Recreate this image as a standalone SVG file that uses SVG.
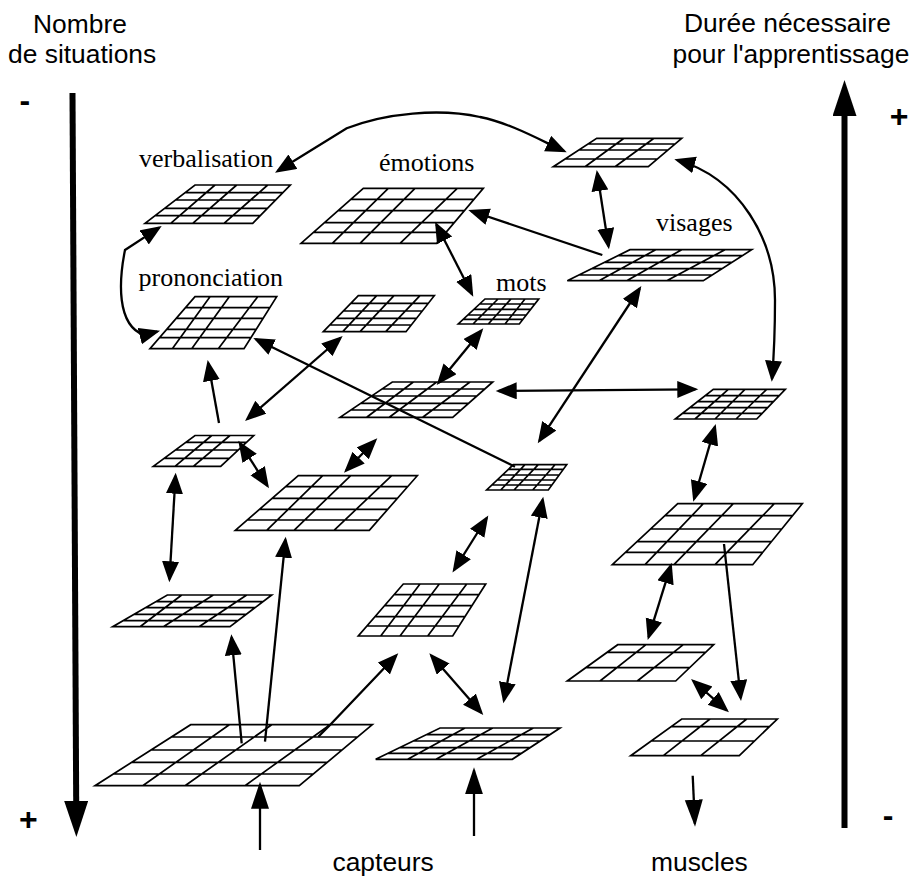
<svg xmlns="http://www.w3.org/2000/svg" width="913" height="879" viewBox="0 0 913 879">
<style>
.grid{fill:none;stroke:#000;stroke-width:1.7;stroke-linejoin:miter}
.c{fill:none;stroke:#000;stroke-width:2.3}
.h{marker-end:url(#head)}
.d{marker-start:url(#head);marker-end:url(#head)}
.b{marker-end:url(#bighead)}
.side{fill:none;stroke:#000;stroke-width:6;marker-end:url(#thick)}
.serif{font-family:"Liberation Serif","Times New Roman",serif;font-size:26px;fill:#000}
.sans{font-family:"Liberation Sans",Arial,sans-serif;font-size:26.4px;fill:#000}
.sign{font-family:"Liberation Sans",Arial,sans-serif;font-size:32px;font-weight:bold;fill:#000}
</style>
<defs>
<marker id="head" markerUnits="userSpaceOnUse" markerWidth="22" markerHeight="18" refX="18" refY="8.5" orient="auto-start-reverse"><path d="M0 0L21 8.5L0 17z" fill="#000"/></marker>
<marker id="bighead" markerUnits="userSpaceOnUse" markerWidth="28" markerHeight="19" refX="24" refY="9" orient="auto"><path d="M0 0L27 9L0 18z" fill="#000"/></marker>
<marker id="thick" markerUnits="userSpaceOnUse" markerWidth="37" markerHeight="25" refX="2" refY="12" orient="auto"><path d="M0 0L36 12L0 24z" fill="#000"/></marker>
</defs>
<rect width="913" height="879" fill="#fff"/>
<g id="nodes">
<g id="verbalisation"><text class="serif" x="139" y="166.7">verbalisation</text><path class="grid" d="M195 185H290.3L252.7 223.3H145ZM185 192.7H282.7M175.4 200H275.6M164.6 208.3H267.4M154.9 215.7H260.2M170.7 223.3L215 185M192.7 223.3L236.7 185M224 223.3L267.7 185"/></g>
<g id="emotions"><text class="serif" x="379" y="170.7">émotions</text><path class="grid" d="M363.3 188.3H483.3L436.7 243.3H301ZM350.8 199.3H474M338 210.7H464.3M324.4 222.7H454.2M313.5 232.3H446M332.3 243.3L388.3 188.3M360 243.3L415 188.3M400 243.3L457.3 188.3"/></g>
<g id="prononciation"><text class="serif" x="138.5" y="285.5">prononciation</text><path class="grid" d="M195 296.7H276.7L244 348.7H150ZM185.5 307.7H269.8M176.3 318.3H263.1M166.8 329.3H256.2M159.5 337.7H250.9M172.3 348.7L210 296.7M191.7 348.7L229.3 296.7M218.3 348.7L257.7 296.7"/></g>
<g id="grid-centre-haut"><path class="grid" d="M358.3 295.7H434.3L406 331.7H323.3ZM350.9 303.3H428.3M343.4 311H422.3M336.3 318.3H416.5M329.8 325H411.3M342.7 331.7L376.7 295.7M360 331.7L394 295.7M385.7 331.7L420 295.7"/></g>
<g id="mots"><text class="serif" x="496" y="290.7">mots</text><path class="grid" d="M485 299H538.7L519.3 324H458.3ZM479.7 304H534.8M474 309.3H530.7M467.9 315H526.3M463.3 319.3H523M473 324L498 299M488.3 324L511 299M505 324L525 299"/></g>
<g id="grid-haut-droite"><path class="grid" d="M596.7 138.3H681.7L648.3 166.7H553.3ZM588 144H675M578.8 150H668M565 159H657.4M585 166.7L624 138.3M615 166.7L654 138.3"/></g>
<g id="visages"><text class="serif" x="656" y="230.7">visages</text><path class="grid" d="M630 249.7H751.7L703.3 280.7H567.3ZM617.9 255.7H742.3M604.5 262.3H732M591.6 268.7H722M578.8 275H712.2M599 280.7L655.7 249.7M626.7 280.7L681.7 249.7M666.7 280.7L725 249.7"/></g>
<g id="grid-centre"><path class="grid" d="M392.3 382H492.7L452.7 417.3H340ZM382 389H484.8M371.5 396H476.8M360.8 403.3H468.6M350.8 410H461M366.7 417.3L413.3 382M389.3 417.3L436.7 382M422.7 417.3L470 382"/></g>
<g id="grid-droite"><path class="grid" d="M713.3 389.3H785.3L756.7 419H675.3ZM705.1 395.7H779.1M697 401.7H773M689.7 407.7H767.6M682.6 413.3H762.2M695 419L728.3 389.3M715 419L745 389.3M736 419L766.7 389.3"/></g>
<g id="grid-petite-centre"><path class="grid" d="M513.3 464.7H566.7L548.3 490H486.7ZM508.5 469.3H563.4M502.5 475H559.2M497.2 480H555.6M492 485H552M500.7 490L525 464.7M514 490L538.3 464.7M532.7 490L555 464.7"/></g>
<g id="grid-petite-gauche"><path class="grid" d="M195 435.5H253.7L220.7 466.3H153.3ZM185.4 442.3H246.1M175.4 450H238.2M163.7 458.3H229M175 466.3L211.7 435.5M193.3 466.3L230 435.5"/></g>
<g id="grid-milieu-gauche"><path class="grid" d="M298.3 475.7H417.3L369.3 530.3H235.3ZM285.7 486.7H407.7M272.2 498.3H397.4M259.6 509.3H387.8M247.2 520H378.4M266.7 530.3L322.7 475.7M294 530.3L350.7 475.7M334 530.3L391.7 475.7"/></g>
<g id="grid-bas-gauche"><path class="grid" d="M167.3 595H271.7L230 626.7H112.7ZM155.8 601.7H262.9M145.5 607.7H255M134 614.3H246.3M123 620.7H237.9M140 626.7L181.7 595M163.3 626.7L213.3 595M199 626.7L246.7 595"/></g>
<g id="grid-capteurs-gauche"><path class="grid" d="M190.7 724.7H372.3L299.3 785.7H95ZM171.4 737H357.6M151 750H342M131.7 762.3H327.3M113.4 774H313.3M142.7 785.7L229.3 724.7M185 785.7L271.7 724.7M245 785.7L330 724.7"/></g>
<g id="grid-milieu-bas"><path class="grid" d="M403.3 584H485.7L452.7 636H358.3ZM394 594.7H478.9M384.5 605.7H471.9M375 616.7H464.9M367 626H459M380.7 636L420 584M400 636L439.3 584M427.7 636L466.7 584"/></g>
<g id="grid-capteurs-droite"><path class="grid" d="M440 728H560L512.3 759.3H375.7ZM426.2 734.7H549.8M413.3 741H540.2M399.6 747.7H530M388 753.3H521.5M407.7 759.3L465 728M436 759.3L492.7 728M476.7 759.3L533.3 728"/></g>
<g id="grid-droite-milieu"><path class="grid" d="M677.7 503.7H802.3L752.7 564.7H612.3ZM664.8 515.7H792.5M650.6 529H781.7M637 541.7H771.4M625.6 552.3H762.8M645 564.7L703.3 503.7M674 564.7L733.3 503.7M715 564.7L774.3 503.7"/></g>
<g id="grid-droite-bas"><path class="grid" d="M617.7 644.7H713.7L675.7 681H567.3ZM607.1 652.3H705.7M585.8 667.7H689.6M600 681L646 644.7M637.3 681L683.3 644.7"/></g>
<g id="grid-muscles"><path class="grid" d="M681.7 719H777.3L739.3 755.7H630.7ZM671 726.7H769.3M651 741H754.5M663.3 755.7L710 719M700.7 755.7L746.7 719"/></g>
</g>
<g id="connectors">
<path class="c d" d="M277.6 171.1L346.7 128.3C385 113 440 108 480 117C510 123 540 140 564 151"/>
<path class="c d" d="M159.2 227.6L125 250C119 280 116 325 144 335L157.2 331.6"/>
<path class="c d" d="M436.4 224.4L471.9 294"/>
<path class="c h" d="M602.3 255L471.1 211"/>
<path class="c d" d="M597.2 173L608.5 246.3"/>
<path class="c d" d="M639.7 288.5L539.4 440.8"/>
<path class="c d" d="M481.4 330.6L438.6 382.7"/>
<path class="c d" d="M498.7 391L695.3 389.3"/>
<path class="c d" d="M677.2 160C740 178 775 240 775 300C775 330 774 355 772 378.7"/>
<path class="c d" d="M714.9 426.9L694.1 498.8"/>
<path class="c h" d="M515 466.7L256 339.3"/>
<path class="c h" d="M219 423L208.2 363"/>
<path class="c d" d="M247.3 419L340.4 338"/>
<path class="c d" d="M375.2 440.5L346.1 470.5"/>
<path class="c d" d="M239.9 443.2L267.4 485.8"/>
<path class="c d" d="M175.5 475.7L169.5 579.3"/>
<path class="c h" d="M241.7 743.3L231.6 637.3"/>
<path class="c h" d="M265 741.7L285.4 539.7"/>
<path class="c h" d="M318.3 736.7L330 725L396.2 655.5"/>
<path class="c d" d="M486.7 518L454.1 570"/>
<path class="c d" d="M431.3 655.6L481.3 712.7"/>
<path class="c d" d="M542.7 499.6L503.9 700.4"/>
<path class="c b" d="M260 850V784.7"/>
<path class="c b" d="M474 836V770.3"/>
<path class="c d" d="M670.8 565.6L648.6 637.1"/>
<path class="c h" d="M724 544L740.7 698"/>
<path class="c d" d="M693.3 681L726.7 710.3"/>
<path class="c b" d="M692.7 775.7L694.9 823.7"/>
<path class="side" d="M72.5 93L76.2 803"/>
<path class="side" d="M844.5 828V114"/>
</g>
<g id="labels">
<text class="sans" x="33" y="32.7">Nombre</text>
<text class="sans" x="8" y="62.7">de situations</text>
<text class="sans" x="684" y="32.3">Durée nécessaire</text>
<text class="sans" x="672.5" y="62.7">pour l'apprentissage</text>
<text class="sans" x="332.5" y="871">capteurs</text>
<text class="sans" x="651" y="871">muscles</text>
<text class="sign" x="19.4" y="110.7">-</text>
<text class="sign" x="19" y="830">+</text>
<text class="sign" x="889.7" y="127">+</text>
<text class="sign" x="882.7" y="825.6">-</text>
</g>
</svg>
